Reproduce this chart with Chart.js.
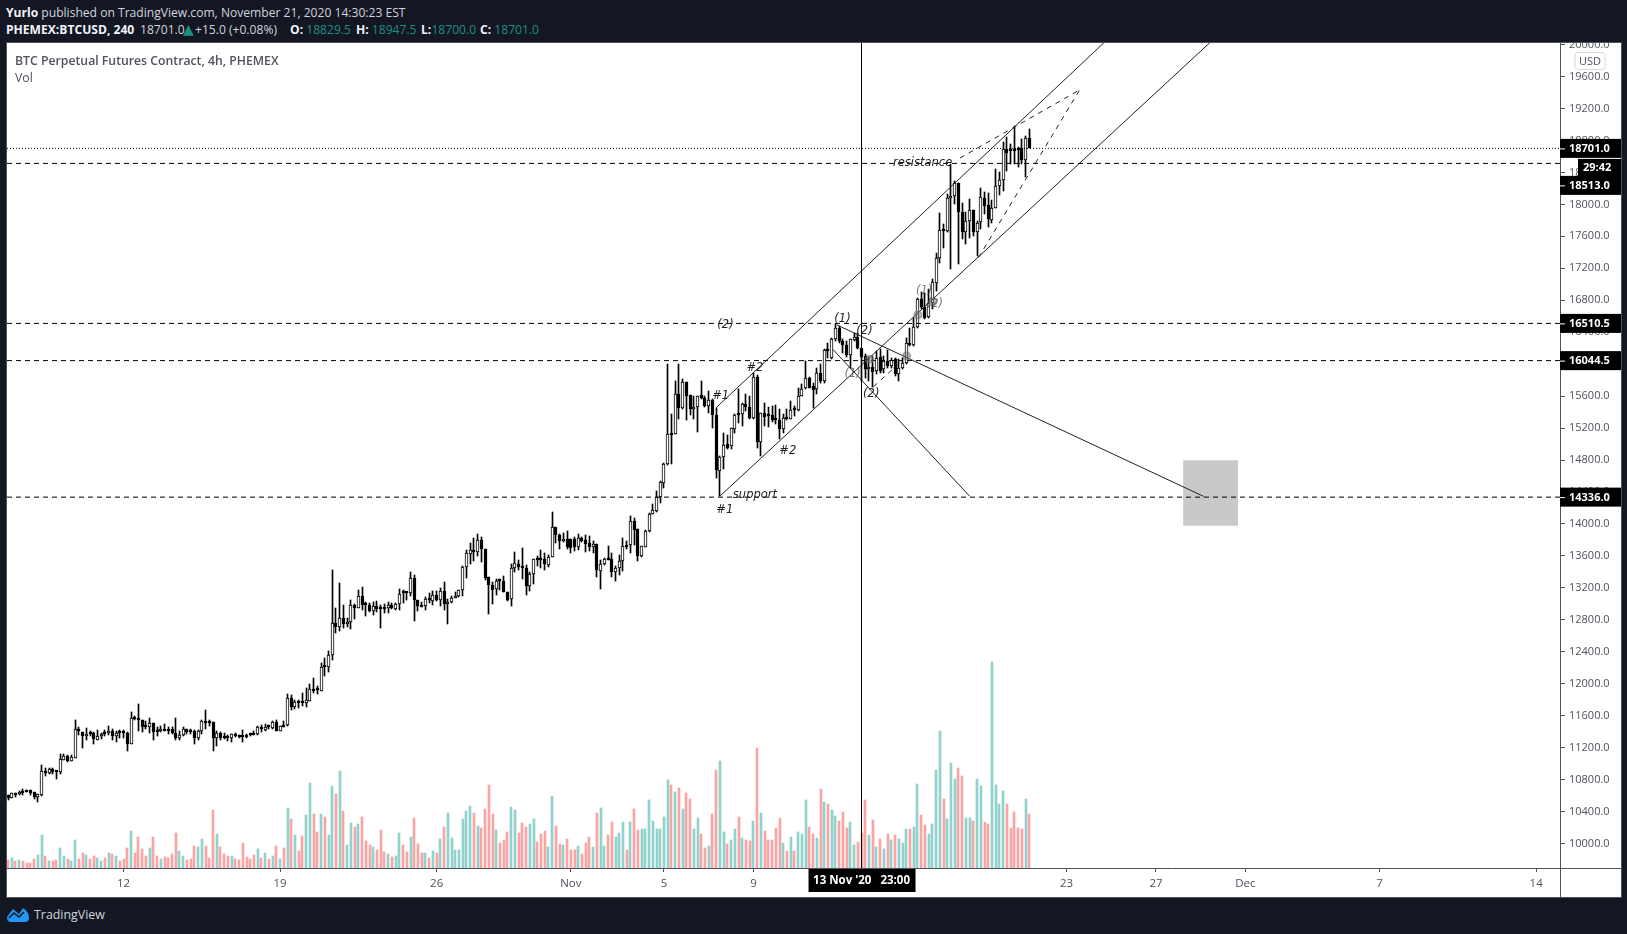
<!DOCTYPE html>
<html>
<head>
<meta charset="utf-8">
<title>BTC Perpetual Futures Contract</title>
<script src="https://cdn.jsdelivr.net/npm/chart.js@4/dist/chart.umd.min.js"></script>
<style>
  html, body { margin: 0; padding: 0; background: #131722; width: 1627px; height: 934px; overflow: hidden; }
  body { font-family: "Open Sans", sans-serif; position: relative; }
  .hd { position: absolute; white-space: nowrap; font-size: 12.1px; line-height: 16px; color: #d1d4dc; }
  .hd b { color: #f0f3fa; font-weight: 700; }
  .teal { color: #1f8f84; }
  #wrap { position: absolute; left: 7px; top: 43px; width: 1614px; height: 854px; background: #fff; outline: 1px solid #50535e; }
  #legend { position: absolute; left: 15px; top: 53px; color: #50535e; font-size: 12.25px; line-height: 16.5px; }
  #legend b { font-weight: 600; }
  #brand { position: absolute; left: 34px; top: 905px; color: #d1d4dc; font-size: 12.4px; line-height: 20px; }
  #logo { position: absolute; left: 6px; top: 906px; }
</style>
</head>
<body>
<div class="hd" style="left:6px;top:5px"><b>Yurlo</b> published on TradingView.com, November 21, 2020 14:30:23 EST</div>
<div class="hd" style="left:6px;top:22px"><b>PHEMEX:BTCUSD, 240</b></div>
<div class="hd" style="left:140px;top:22px">18701.0</div>
<div class="hd teal" style="left:183px;top:21px;font-family:'DejaVu Sans';font-size:14px">▲</div>
<div class="hd" style="left:195px;top:22px">+15.0 (+0.08%)</div>
<div class="hd" style="left:290px;top:22px"><b>O:</b> <span class="teal">18829.5</span></div>
<div class="hd" style="left:356px;top:22px"><b>H:</b> <span class="teal">18947.5</span></div>
<div class="hd" style="left:421px;top:22px"><b>L:</b> <span class="teal" style="margin-left:-3px">18700.0</span></div>
<div class="hd" style="left:480px;top:22px"><b>C:</b> <span class="teal">18701.0</span></div>

<div id="wrap"><canvas id="chart" width="1614" height="854"></canvas></div>
<div id="legend"><b>BTC Perpetual Futures Contract, 4h, PHEMEX</b><br>Vol</div>

<svg id="logo" width="24" height="18" viewBox="0 0 24 18">
  <path d="M1 11 L7 3 L13 8 L17 2 Q23 6 23 12 Q23 16 19 16 L5 16 Q1 16 1 11 Z" fill="#2196f3"/>
  <path d="M3 12 L8 7 L13 11 L18 6" fill="none" stroke="#131722" stroke-width="1.6"/>
</svg>
<div id="brand">TradingView</div>

<script>
// candles, one per 4h bar
const opens = [
  10609,10575,10630,10617,10651,10667,10667,10642,10588,10609,
  10910,10889,10935,10905,10901,11052,11098,11035,11077,11432,
  11398,11340,11382,11382,11302,11340,11382,11378,11415,11340,
  11394,11394,11382,11244,11570,11570,11545,11469,11465,11511,
  11411,11403,11432,11432,11432,11382,11315,11357,11432,11407,
  11407,11315,11403,11532,11524,11524,11327,11382,11336,11340,
  11327,11369,11348,11340,11357,11369,11369,11365,11457,11424,
  11465,11449,11520,11415,11482,11478,11820,11703,11770,11762,
  11754,11787,11933,11921,11912,12213,12205,12355,12760,12706,
  12823,12744,12769,12990,12948,13103,13003,12991,12907,12974,
  12953,12953,12945,12991,12940,13003,13141,13141,13137,13329,
  13049,12974,12970,13070,13041,13116,13045,13162,12995,13020,
  13074,13095,13170,13463,13630,13676,13647,13801,13692,13337,
  13241,13183,13291,13287,13153,13057,13446,13504,13463,13450,
  13220,13371,13563,13563,13563,13492,13584,13964,13864,13784,
  13814,13814,13814,13709,13826,13801,13764,13709,13751,13408,
  13496,13563,13563,13396,13450,13534,13738,13738,14043,13931,
  13596,13718,13910,14131,14165,14340,14516,14746,15134,15122,
  15623,15456,15773,15610,15435,15468,15610,15581,15477,15548,
  15368,14661,14841,14996,14975,15192,15372,15372,15501,15468,
  15326,15844,15025,15392,15359,15359,15309,15301,15192,15321,
  15317,15430,15426,15601,15706,15831,15723,15685,15894,15789,
  16174,16082,16320,16458,16287,16245,16115,16308,16345,16207,
  16103,15944,15965,15911,16094,15936,16040,15977,16061,15873,
  15956,16019,16270,16240,16470,16812,16721,16595,16762,17021,
  17331,17698,17669,18074,18099,18266,17899,17656,17786,17924,
  17656,17782,18078,17991,17807,17961,18233,18300,18693,18680,
  18684,18684,18701,18559,18829.5
];
const highs = [
  10609,10630,10630,10663,10680,10675,10672,10642,10622,10985,
  10951,10943,10947,10905,11123,11118,11110,11110,11549,11457,
  11398,11449,11403,11390,11419,11382,11424,11474,11440,11403,
  11424,11419,11394,11649,11595,11749,11545,11528,11574,11511,
  11453,11474,11499,11457,11457,11574,11407,11457,11436,11428,
  11424,11419,11549,11674,11549,11524,11403,11398,11378,11357,
  11365,11386,11357,11424,11373,11386,11407,11469,11478,11499,
  11482,11536,11549,11474,11532,11875,11862,11800,11791,11887,
  11946,12000,12075,11975,12263,12326,12414,13429,12948,13262,
  12990,12823,13053,12999,13178,13212,13024,13011,13020,13032,
  12991,12999,13024,13011,13011,13191,13179,13149,13404,13367,
  13049,13024,13087,13141,13158,13166,13204,13275,13066,13095,
  13145,13179,13479,13680,13764,13826,13876,13843,13692,13337,
  13271,13316,13312,13346,13153,13504,13655,13546,13701,13492,
  13396,13563,13605,13680,13638,13617,14152,13964,13880,13889,
  13918,13814,13835,13876,13839,13868,13855,13784,13755,13555,
  13571,13730,13638,13479,13617,13826,13784,14106,14073,13939,
  13730,13922,14140,14244,14411,14537,14766,15999,15372,15790,
  15999,15811,15773,15610,15602,15602,15790,15602,15665,15560,
  15456,14849,15142,15109,15204,15380,15685,15518,15622,15601,
  15885,15860,15392,15518,15468,15476,15484,15434,15372,15434,
  15539,15476,15706,15748,16040,15844,15768,15956,15998,16186,
  16270,16333,16500,16479,16312,16291,16320,16395,16395,16207,
  16124,16094,16103,16165,16186,16103,16174,16082,16082,16061,
  16082,16333,16458,16583,16833,16904,16896,16938,17063,17389,
  17890,17753,18129,18505,18296,18266,18012,17899,18066,17924,
  17794,18208,18149,18137,18058,18442,18400,18776,18839,18755,
  18985,18720,18818,18851,18947.5
];
const lows = [
  10546,10575,10588,10609,10613,10645,10609,10559,10525,10600,
  10847,10872,10868,10809,10876,11047,11022,11027,11068,11361,
  11198,11290,11340,11240,11290,11311,11340,11361,11290,11277,
  11327,11327,11164,11240,11541,11403,11390,11436,11382,11290,
  11340,11398,11403,11373,11365,11298,11298,11348,11373,11369,
  11252,11294,11373,11440,11474,11164,11227,11290,11307,11286,
  11277,11332,11319,11265,11315,11340,11353,11361,11390,11415,
  11428,11436,11411,11411,11453,11474,11674,11683,11691,11724,
  11712,11779,11883,11866,11904,12100,12142,12293,12631,12656,
  12694,12715,12681,12806,12948,12928,12853,12895,12865,12903,
  12702,12890,12890,12936,12928,12928,13011,13049,13095,12790,
  12915,12957,12928,13011,12991,13041,12970,12920,12752,13011,
  13070,13091,13103,13321,13496,13542,13601,13530,13300,12878,
  13003,13116,13170,13145,13041,12978,13396,13429,13316,13116,
  13158,13250,13471,13450,13421,13459,13584,13764,13692,13776,
  13692,13634,13659,13680,13776,13647,13659,13638,13333,13191,
  13492,13555,13333,13283,13367,13408,13688,13638,13743,13534,
  13588,13709,13901,14119,14148,14257,14453,14737,14746,15122,
  15310,15435,15301,15360,15310,15151,15560,15468,15393,15205,
  14578,14348,14683,14942,14933,15142,15267,15225,15413,15309,
  15309,14954,14849,15225,15217,15275,15246,15058,15142,15301,
  15309,15351,15413,15601,15685,15706,15447,15622,15768,15768,
  16082,16061,16291,16270,16145,16094,15956,16291,16186,15789,
  15831,15789,15718,15873,15894,15894,15956,15956,15852,15789,
  15936,15998,16228,16228,16457,16687,16570,16583,16687,16917,
  17264,17460,17656,17197,18003,17251,17565,17502,17585,17606,
  17356,17698,17878,17711,17773,17949,18120,18170,18421,18505,
  18505,18463,18505,18346,18700
];
const closes = [
  10567,10630,10609,10646,10638,10651,10634,10588,10617,10910,
  10889,10935,10893,10893,11060,11098,11035,11081,11432,11407,
  11340,11369,11365,11307,11344,11369,11369,11415,11340,11382,
  11382,11378,11252,11570,11561,11541,11457,11453,11507,11390,
  11394,11432,11407,11403,11378,11315,11357,11432,11390,11390,
  11315,11407,11536,11503,11507,11327,11382,11319,11315,11315,
  11365,11340,11336,11336,11336,11357,11361,11461,11428,11457,
  11453,11520,11415,11474,11461,11820,11703,11770,11754,11754,
  11795,11937,11912,11917,12213,12205,12359,12760,12706,12823,
  12752,12773,12986,12948,13099,12991,12982,12907,12974,12940,
  12936,12936,12986,12949,13003,13128,13133,13137,13329,13045,
  12970,12966,13066,13049,13116,13045,13162,12995,13024,13074,
  13099,13174,13463,13638,13676,13651,13801,13684,13329,13233,
  13170,13291,13283,13145,13053,13446,13513,13459,13450,13220,
  13379,13563,13546,13546,13496,13588,13964,13860,13784,13814,
  13709,13705,13709,13826,13793,13755,13709,13755,13421,13504,
  13563,13555,13396,13454,13534,13730,13713,14039,13922,13605,
  13730,13914,14131,14173,14340,14524,14746,15122,15117,15623,
  15456,15773,15602,15435,15468,15602,15577,15477,15552,15364,
  14675,14841,14987,14955,15196,15363,15363,15501,15468,15326,
  15844,15025,15392,15342,15351,15301,15301,15192,15330,15313,
  15430,15422,15606,15693,15831,15706,15681,15894,15789,16174,
  16165,16320,16458,16287,16245,16115,16312,16345,16207,16094,
  15944,15965,15902,16082,15915,16040,15977,16048,15873,15956,
  16019,16270,16236,16470,16812,16716,16583,16762,17030,17335,
  17682,17669,18074,18099,18266,17899,17656,17786,17924,17656,
  17773,18087,17982,17815,17961,18225,18300,18693,18642,18668,
  18672,18676,18559,18829.5,18701
];
// volume, no scale on the picture so the unit is arbitrary
const volumes = [
  25,30,22,25,22,16,16,28,40,100,
  37,22,22,25,60,37,28,22,85,28,
  46,40,28,37,31,22,31,46,43,37,
  22,28,61,112,46,94,58,37,61,94,
  37,28,34,31,43,106,52,37,25,28,
  67,64,88,67,31,175,103,64,43,37,
  37,28,25,76,34,28,40,58,31,46,
  28,37,67,28,61,181,148,100,52,97,
  160,256,163,109,163,154,100,247,223,292,
  172,70,136,124,133,154,82,70,64,55,
  115,49,43,34,37,106,70,49,94,151,
  73,46,46,31,52,46,88,124,166,91,
  55,55,148,172,187,166,127,121,178,250,
  163,115,76,85,109,184,175,106,136,124,
  133,148,79,103,112,64,217,127,73,70,
  88,55,55,67,43,76,94,64,166,181,
  67,100,139,94,106,139,55,139,178,115,
  118,118,205,142,118,118,154,265,250,229,
  241,178,226,208,118,151,103,61,67,163,
  295,322,109,73,85,118,154,91,85,82,
  142,361,166,112,85,85,121,151,76,52,
  94,52,109,103,205,124,103,91,238,199,
  193,175,157,142,169,121,139,70,79,106,
  205,100,145,64,88,58,103,85,100,88,
  76,118,118,124,253,160,130,103,133,295,
  412,208,148,316,268,301,277,151,151,142,
  268,247,139,133,619,250,193,232,193,121,
  169,121,118,208,163
];

// axes
const priceTicks = [
  10000, 10400, 10800, 11200, 11600, 12000, 12400, 12800, 13200, 13600, 14000,
  14400, 14800, 15200, 15600, 16000, 16400, 16800, 17200, 17600, 18000, 18400,
  18800, 19200, 19600, 20000
];
const timeTickBars = [31, 73, 115, 151, 176, 200, 284, 308, 332, 368, 410];
const timeTickLabels = ['12', '19', '26', 'Nov', '5', '9', '23', '27', 'Dec', '7', '14'];
const crosshairBar = 229;
const crosshairLabel = "13 Nov '20   23:00";

// horizontal levels and their price tags
const levelPrices = [18513, 16510.5, 16044.5, 14336];
const lastPrice = 18701;
const tagPrices = [14336, 16044.5, 16510.5, 18513, 18701];
const tagLabels = ['14336.0', '16044.5', '16510.5', '18513.0', '18701.0'];

// drawn trend lines, [bar, price] pairs
const channelLower = [[191, 14348], [322.7, 20035]];
const channelUpper = [[190, 15455], [294.3, 20035]];
const fallLineLong = [[222.4, 16491], [320.8, 14345]];
const fallLineShort = [[221.3, 16186], [258, 14348]];
const wedgeUpper = [[255.4, 18580], [287.5, 19432]];
const wedgeLower = [[260.4, 17335], [287.5, 19432]];
const wedgeSmall = [[232.2, 15718], [239.3, 16019]];
const circleMarks = [[231.1, 16061], [241.1, 16103], [244.1, 16617], [248.1, 16779]];
const targetBox = [315.3, 330, 13978, 14797];

// hand written notes
const noteTexts = ['(2)', '(1)', '(2)', '#1', '#2', '#2', 'support', '#1', '(1)', '(2)', 'resistance', '(1)', '(2)'];
const noteBars = [192.5, 223.9, 229.8, 191.2, 200.4, 209.2, 200.4, 192.3, 226.6, 231.6, 245.4, 245.8, 248.7];
const notePrices = [16487, 16571, 16412, 15601, 15956, 14912, 14360, 14173, 15873, 15631, 18513, 16917, 16750];

const AXIS_COLOR = '#50535e';
const TEXT_FONT = '"Open Sans", sans-serif';
const X_MIN = -0.27;
const X_MAX = 416.4;
const Y_MIN = 9694;
const Y_MAX = 20020;

function lineSet(points, dash, color) {
  return {
    type: 'line',
    data: points.map(p => ({ x: p[0], y: p[1] })),
    borderColor: color || '#222',
    borderWidth: 1,
    borderDash: dash || [],
    pointRadius: 0,
    order: 1,
    yAxisID: 'y'
  };
}

// no label overhang, the plot fills the frame edge to edge
function clearPadding(scale) {
  scale.paddingTop = 0;
  scale.paddingBottom = 0;
  scale.paddingLeft = 0;
  scale.paddingRight = 0;
}

const upColor = '#92d2cc';
const downColor = '#f9a5a5';

const datasets = [
  {
    type: 'bar',
    data: volumes.map((v, i) => ({ x: i, y: v })),
    backgroundColor: volumes.map((v, i) => closes[i] >= opens[i] ? upColor : downColor),
    barThickness: 2,
    grouped: false,
    order: 6,
    yAxisID: 'vol'
  },
  {
    type: 'bar',
    data: highs.map((h, i) => ({ x: i, y: [lows[i], h] })),
    backgroundColor: '#000',
    barThickness: 1,
    grouped: false,
    order: 4,
    yAxisID: 'y'
  },
  {
    type: 'bar',
    data: opens.map((o, i) => ({ x: i, y: [o, closes[i]] })),
    backgroundColor: opens.map((o, i) => closes[i] >= o ? '#fff' : '#000'),
    borderColor: '#000',
    borderWidth: 1,
    borderSkipped: false,
    barThickness: 3,
    minBarLength: 2,
    grouped: false,
    order: 3,
    yAxisID: 'y'
  },
  ...levelPrices.map(p => lineSet([[X_MIN, p], [X_MAX, p]], [5, 4], '#000')),
  lineSet([[X_MIN, lastPrice], [X_MAX, lastPrice]], [1, 2], '#000'),
  lineSet([[crosshairBar, Y_MIN], [crosshairBar, Y_MAX]], [], '#000'),
  lineSet(channelLower),
  lineSet(channelUpper),
  lineSet(fallLineLong),
  lineSet(fallLineShort),
  lineSet(wedgeUpper, [5, 5]),
  lineSet(wedgeLower, [5, 5]),
  lineSet(wedgeSmall, [5, 5]),
  {
    type: 'scatter',
    data: circleMarks.map(p => ({ x: p[0], y: p[1] })),
    backgroundColor: 'rgba(110,110,110,0.45)',
    borderColor: 'rgba(110,110,110,0.6)',
    pointRadius: 4,
    order: 0,
    yAxisID: 'y'
  }
];

// keep candles on whole pixels so the hollow bodies stay crisp
const snapPlugin = {
  id: 'snap',
  afterDatasetsUpdate(chart) {
    chart.data.datasets.forEach((ds, i) => {
      if (ds.type !== 'bar') return;
      chart.getDatasetMeta(i).data.forEach(el => {
        el.x = ds.yAxisID === 'vol' ? Math.round(el.x) : Math.floor(el.x) + 0.5;
        el.y = Math.round(el.y);
        el.base = Math.round(el.base);
      });
    });
  }
};

// grey target box sits under the candles and lines
const boxPlugin = {
  id: 'box',
  beforeDatasetsDraw(chart) {
    const { ctx, scales } = chart;
    const x0 = scales.x.getPixelForValue(targetBox[0]);
    const x1 = scales.x.getPixelForValue(targetBox[1]);
    const y0 = scales.y.getPixelForValue(targetBox[3]);
    const y1 = scales.y.getPixelForValue(targetBox[2]);
    ctx.save();
    ctx.fillStyle = '#c9c9c9';
    ctx.fillRect(x0, y0, x1 - x0, y1 - y0);
    ctx.restore();
  }
};

// notes, axis frame, price tags and crosshair label
const overlayPlugin = {
  id: 'overlay',
  afterDraw(chart) {
    const { ctx, scales, chartArea, width, height } = chart;
    ctx.save();

    ctx.font = 'italic 11.5px "DejaVu Sans", sans-serif';
    ctx.textAlign = 'center';
    ctx.textBaseline = 'middle';
    noteTexts.forEach((text, i) => {
      ctx.fillStyle = (text === '(1)' && i > 1) || i === 12 ? 'rgba(60,60,60,0.7)' : '#222';
      ctx.fillText(text, scales.x.getPixelForValue(noteBars[i]), scales.y.getPixelForValue(notePrices[i]));
    });

    ctx.fillStyle = AXIS_COLOR;
    ctx.fillRect(chartArea.right, chartArea.bottom, 1, height - chartArea.bottom);
    ctx.fillRect(chartArea.right, chartArea.bottom, width - chartArea.right, 1);

    ctx.textAlign = 'left';
    const lastY = scales.y.getPixelForValue(lastPrice);
    tagPrices.forEach((price, i) => {
      // 18513 gets pushed down below the countdown box
      const y = price === 18513 ? lastY + 37 : scales.y.getPixelForValue(price);
      ctx.fillStyle = '#000';
      ctx.fillRect(chartArea.right, y - 9.5, width - chartArea.right, 19);
      ctx.fillStyle = '#fff';
      ctx.fillRect(chartArea.right, y, 5, 1);
      ctx.font = 'bold 11px ' + TEXT_FONT;
      ctx.fillText(tagLabels[i], chartArea.right + 9, y + 0.5);
    });

    // countdown box hangs under the last price
    ctx.fillStyle = '#000';
    ctx.fillRect(chartArea.right + 18, lastY + 10.5, width - chartArea.right - 18, 17.5);
    ctx.fillStyle = '#fff';
    ctx.font = 'bold 11px ' + TEXT_FONT;
    ctx.fillText('29:42', chartArea.right + 23, lastY + 19.5);

    // USD button
    ctx.fillStyle = '#fff';
    ctx.strokeStyle = '#d6d8e0';
    ctx.beginPath();
    ctx.roundRect(chartArea.right + 15, 9.5, 30, 17, 3);
    ctx.fill();
    ctx.stroke();
    ctx.fillStyle = AXIS_COLOR;
    ctx.font = '11px ' + TEXT_FONT;
    ctx.textAlign = 'center';
    ctx.fillText('USD', chartArea.right + 30, 18.5);

    // crosshair date label
    const cx = scales.x.getPixelForValue(crosshairBar);
    ctx.fillStyle = '#000';
    ctx.fillRect(cx - 53, chartArea.bottom + 1, 107, 23);
    ctx.fillStyle = '#fff';
    ctx.font = 'bold 11.5px ' + TEXT_FONT;
    ctx.fillText(crosshairLabel, cx, chartArea.bottom + 13);
    ctx.restore();
  }
};

new Chart(document.getElementById('chart'), {
  type: 'bar',
  data: { datasets },
  plugins: [snapPlugin, boxPlugin, overlayPlugin],
  options: {
    responsive: false,
    animation: false,
    events: [],
    layout: { padding: 0, autoPadding: false },
    plugins: { legend: { display: false }, tooltip: { enabled: false } },
    scales: {
      x: {
        type: 'linear',
        min: X_MIN,
        max: X_MAX,
        offset: false,
        afterFit(scale) { scale.height = 29; clearPadding(scale); },
        afterBuildTicks(scale) { scale.ticks = timeTickBars.map(v => ({ value: v })); },
        grid: { display: true, offset: false, drawOnChartArea: false, color: AXIS_COLOR, tickLength: 4 },
        border: { color: AXIS_COLOR },
        ticks: {
          autoSkip: false,
          maxRotation: 0,
          padding: 5,
          color: AXIS_COLOR,
          font: { family: TEXT_FONT, size: 11.5 },
          callback: (value, index) => timeTickLabels[index]
        }
      },
      y: {
        position: 'right',
        min: Y_MIN,
        max: Y_MAX,
        afterFit(scale) { scale.width = 61; clearPadding(scale); },
        afterBuildTicks(scale) { scale.ticks = priceTicks.map(v => ({ value: v })); },
        grid: { display: true, drawOnChartArea: false, color: AXIS_COLOR, tickLength: 5 },
        border: { color: AXIS_COLOR },
        ticks: {
          autoSkip: false,
          padding: 4,
          color: AXIS_COLOR,
          font: { family: TEXT_FONT, size: 11 },
          callback: v => v.toFixed(1)
        }
      },
      vol: { display: false, min: 0, max: 2475 }
    }
  }
});
</script>
</body>
</html>
